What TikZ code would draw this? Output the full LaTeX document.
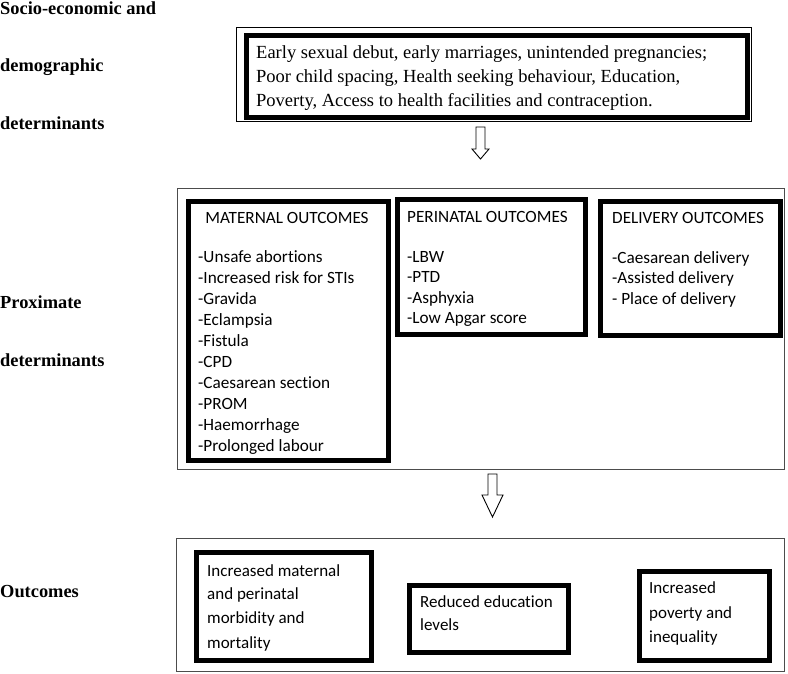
\documentclass[tikz,border=0pt]{standalone}
\usepackage{fontspec}
\setmainfont{Liberation Serif}
\newfontfamily\calib[Ligatures=NoCommon]{Carlito}
\begin{document}
\begin{tikzpicture}[x=1pt,y=-1pt,
  lbl/.style={anchor=base west,inner sep=0,font=\fontsize{18.4}{20}\selectfont\bfseries},
  toptxt/.style={anchor=base west,inner sep=0,font=\fontsize{18.5}{22}\selectfont},
  ctxt/.style={anchor=base west,inner sep=0,font=\fontsize{17.2}{21}\selectfont\calib},
  btxt/.style={anchor=base west,inner sep=0,font=\fontsize{17}{24}\selectfont\calib},
  thinbox/.style={draw=black!70,line width=1.3pt,inner sep=0,anchor=north west},
  thickbox/.style={draw=black,line width=4.5pt,inner sep=0,anchor=north west},
  blockarrow/.style={draw=black,line width=0.9pt,fill=white,line join=miter}]
\useasboundingbox (0,0) rectangle (788,673);

% left labels
\node[lbl] (l1) at (0,14) {Socio-economic and};
\node[lbl] (l2) at (0,71) {demographic};
\node[lbl] (l3) at (0,129) {determinants};
\node[lbl] (l4) at (0,308) {Proximate};
\node[lbl] (l5) at (0,366) {determinants};
\node[lbl] (l6) at (0,597) {Outcomes};

% top box
\node[draw=black,line width=1.1pt,inner sep=0,anchor=north west,minimum width=515,minimum height=94] (topout) at (236,27) {};
\node[draw=black,line width=5pt,inner sep=0,anchor=north west,minimum width=500.5,minimum height=81.5] (topin) at (244,33) {};
\node[toptxt] (t1) at (256,58) {Early sexual debut, early marriages, unintended pregnancies;};
\node[toptxt] (t2) at (256,82) {Poor child spacing, Health seeking behaviour, Education,};
\node[toptxt] (t3) at (256,106) {Poverty, Access to health facilities and contraception.};

% arrow 1
\coordinate (a1) at (480.5,127);
\draw[blockarrow] (a1) ++(-4.5,0) -- ++(9,0) -- ++(0,22) -- ++(4,0) -- ++(-8.5,10) -- ++(-8.5,-10) -- ++(4,0) -- cycle;

% middle section
\node[thinbox,minimum width=607,minimum height=281] (mid) at (177,188) {};
\node[thickbox,minimum width=200,minimum height=259] (mat) at (186,199) {};
\node[thickbox,minimum width=188,minimum height=135] (per) at (395,197) {};
\node[thickbox,minimum width=180,minimum height=134] (del) at (598,199) {};

\node[ctxt,anchor=base] (mattitle) at (287,223) {MATERNAL OUTCOMES};
\foreach \t [count=\i] in {-Unsafe abortions,-Increased risk for STIs,-Gravida,-Eclampsia,-Fistula,-CPD,-Caesarean section,-PROM,-Haemorrhage,-Prolonged labour}
  \node[ctxt] (mat\i) at (198,{262+21*(\i-1)}) {\t};

\node[ctxt] (pertitle) at (407,222) {PERINATAL OUTCOMES};
\foreach \t [count=\i] in {-LBW,-PTD,-Asphyxia,-Low Apgar score}
  \node[ctxt] (per\i) at (407,{262+20.5*(\i-1)}) {\t};

\node[ctxt] (deltitle) at (612,223) {DELIVERY OUTCOMES};
\foreach \t [count=\i] in {-Caesarean delivery,-Assisted delivery,- Place of delivery}
  \node[ctxt] (del\i) at (612,{263+20.5*(\i-1)}) {\t};

% arrow 2
\coordinate (a2) at (492.5,474);
\draw[blockarrow] (a2) ++(-4.5,0) -- ++(9,0) -- ++(0,21) -- ++(6,0) -- ++(-10.5,22) -- ++(-10.5,-22) -- ++(6,0) -- cycle;

% bottom section
\node[thinbox,minimum width=608,minimum height=133] (bot) at (176,538) {};
\node[thickbox,minimum width=175,minimum height=108] (b1) at (194,550) {};
\node[thickbox,minimum width=159,minimum height=67] (b2) at (407,583) {};
\node[thickbox,minimum width=130,minimum height=89] (b3) at (637,569) {};

\foreach \t/\y [count=\i] in {Increased maternal/576,and perinatal/599,morbidity and/623,mortality/648}
  \node[btxt] (b1t\i) at (207,\y) {\t};
\foreach \t/\y [count=\i] in {Reduced education/607,levels/630}
  \node[btxt] (b2t\i) at (420,\y) {\t};
\foreach \t/\y [count=\i] in {Increased/593,poverty and/618,inequality/642}
  \node[btxt] (b3t\i) at (649,\y) {\t};
\end{tikzpicture}
\end{document}
